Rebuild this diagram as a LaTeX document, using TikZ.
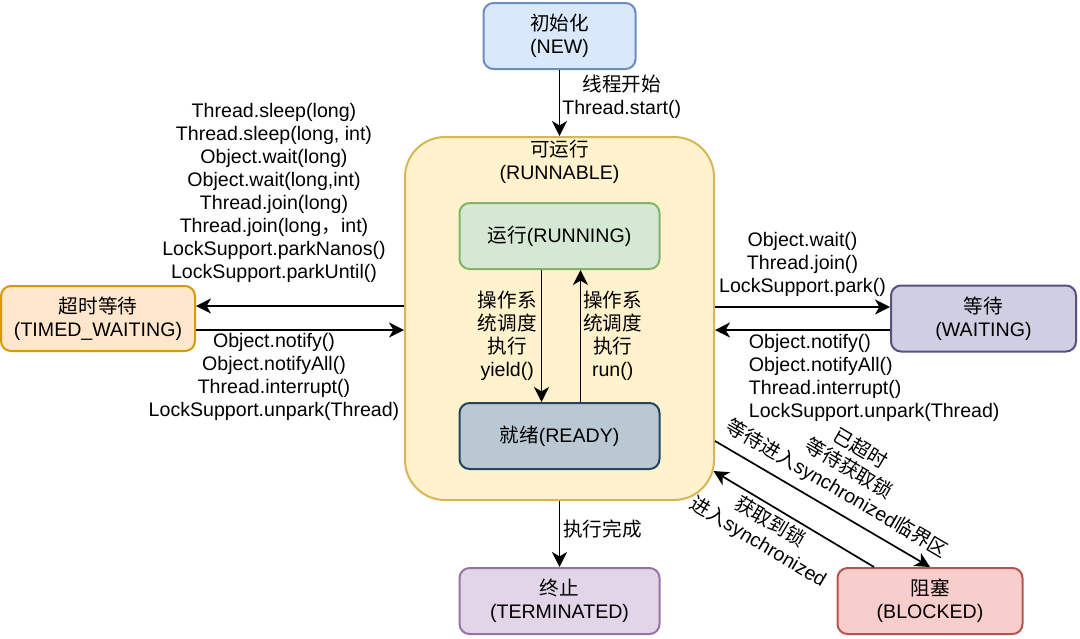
\documentclass[tikz,border=0pt]{standalone}
\usepackage{fontspec}
\setmainfont{Liberation Sans}
\newfontfamily\cjk{Noto Sans CJK SC}
\usepackage{tikz}
\usetikzlibrary{arrows.meta}
\usetikzlibrary {positioning}
\definecolor{newfill}{HTML}{DAE8FC}\definecolor{newdraw}{HTML}{6C8EBF}
\definecolor{runfill}{HTML}{FFF2CC}\definecolor{rundraw}{HTML}{D6B656}
\definecolor{okfill}{HTML}{D5E8D4}\definecolor{okdraw}{HTML}{82B366}
\definecolor{readyfill}{HTML}{BAC8D3}\definecolor{readydraw}{HTML}{23445D}
\definecolor{timefill}{HTML}{FFE6CC}\definecolor{timedraw}{HTML}{D79B00}
\definecolor{waitfill}{HTML}{D0CEE2}\definecolor{waitdraw}{HTML}{56517E}
\definecolor{endfill}{HTML}{E1D5E7}\definecolor{enddraw}{HTML}{9673A6}
\definecolor{blockfill}{HTML}{F8CECC}\definecolor{blockdraw}{HTML}{B85450}
\newcommand{\zh}[1]{{\cjk #1}}
\tikzset{main node/.style={rectangle,rounded corners=5pt,draw,line width=1pt,inner sep=0pt,minimum width=100pt,minimum height=33pt,align=center}}
\tikzset{trans text/.style={inner sep=0pt,align=center}}

\begin{document}
\begin{tikzpicture}[x=0.5pt,y=-0.5pt,font=\fontsize{9.8}{11.5}\selectfont,line width=0.85pt,>={Stealth[length=7.5pt,width=7.5pt,inset=2.2pt]}]
    \useasboundingbox (0,0) rectangle (1080,638);
    	\node[main node,minimum width=154.5pt,minimum height=181.5pt,rounded corners=20pt,fill=runfill,draw=rundraw,
    	      label={[anchor=north,yshift=-1.5pt,inner sep=0pt,align=center]north:{\zh{可运行}\\(RUNNABLE)}}] (v_{2}) at (559.5,318.5) {};
    	\node[main node,minimum width=76pt,fill=newfill,draw=newdraw] (v_{1}) [above = 33pt of v_{2}] {\zh{初始化}\\(NEW)};
    	\node[main node,fill=okfill,draw=okdraw] (v_{3}) [below = 33pt of v_{2}.north] {\zh{运行}(RUNNING)};
    	\node[main node,fill=readyfill,draw=readydraw] (v_{4}) [below = 66pt of v_{3}] {\zh{就绪}(READY)};
    	\node[main node,minimum width=97pt,minimum height=32.5pt,fill=timefill,draw=timedraw] (v_{5}) [left = 104pt of v_{2}] {\zh{超时等待}\\(TIMED\_WAITING)};
    	\node[main node,minimum width=92.5pt,fill=waitfill,draw=waitdraw] (v_{6}) [right = 87.5pt of v_{2}] {\zh{等待}\\(WAITING)};
    	\node[main node,fill=endfill,draw=enddraw] (v_{7}) [below = 33pt of v_{2}] {\zh{终止}\\(TERMINATED)};
    	\node[main node,minimum width=92.5pt,fill=blockfill,draw=blockdraw] (v_{8}) [right = 88pt of v_{7}] {\zh{阻塞}\\(BLOCKED)};

    	\draw[->] (v_{1}) -- node[trans text,right=1pt,pos=0.4] {\zh{线程开始}\\Thread.start()} (v_{2});
    	\draw[->] ([xshift=-9pt]v_{3}.south) -- node[trans text,left=2pt] {\zh{操作系}\\\zh{统调度}\\\zh{执行}\\yield()} ([xshift=-9pt]v_{3}.south |- v_{4}.north);
    	\draw[->] ([xshift=10.5pt]v_{4}.north) -- node[trans text,right=1pt] {\zh{操作系}\\\zh{统调度}\\\zh{执行}\\run()} ([xshift=10.5pt]v_{4}.north |- v_{3}.south);
    	\draw[->] ([yshift=6.25pt]v_{2}.west) -- node[trans text,above=11.5pt,pos=0.625] {Thread.sleep(long)\\Thread.sleep(long, int)\\Object.wait(long)\\Object.wait(long,int)\\Thread.join(long)\\Thread.join(long\zh{，}int)\\LockSupport.parkNanos()\\LockSupport.parkUntil()} ([yshift=6.25pt]v_{2}.west -| v_{5}.east);
    	\draw[->] ([yshift=-5.75pt]v_{5}.east) -- node[trans text,below=1pt,pos=0.375] {Object.notify()\\Object.notifyAll()\\Thread.interrupt()\\LockSupport.unpark(Thread)} ([yshift=-5.75pt]v_{5}.east -| v_{2}.west);
    	\draw[->] ([yshift=5.75pt]v_{2}.east) -- node[trans text,above=5pt] {Object.wait()\\Thread.join()\\LockSupport.park()} ([yshift=5.75pt]v_{2}.east -| v_{6}.west);
    	\draw[->] ([yshift=-5.75pt]v_{2}.east -| v_{6}.west) -- node[trans text,align=left,anchor=north west,yshift=-1.5pt,pos=0.811] {Object.notify()\\Object.notifyAll()\\Thread.interrupt()\\LockSupport.unpark(Thread)} ([yshift=-5.75pt]v_{2}.east);
    	\draw[->] (v_{2}) -- node[trans text,right=1.5pt,pos=0.42] {\zh{执行完成}} (v_{7});
    	\draw[->] ([yshift=-61.25pt]v_{2}.east) -- node[trans text,sloped,above=4.5pt,pos=0.52] {\zh{已超时}\\\zh{等待获取锁}\\\zh{等待进入}synchronized\zh{临界区}} (v_{8}.north);
    	\draw[->] ([xshift=-28pt]v_{8}.north) -- node[trans text,sloped,below=2pt,pos=0.6] {\zh{获取到锁}\\\zh{进入}synchronized} ([xshift=-0.75pt,yshift=-76.25pt]v_{2}.east);
    \end{tikzpicture}
\end{document}
